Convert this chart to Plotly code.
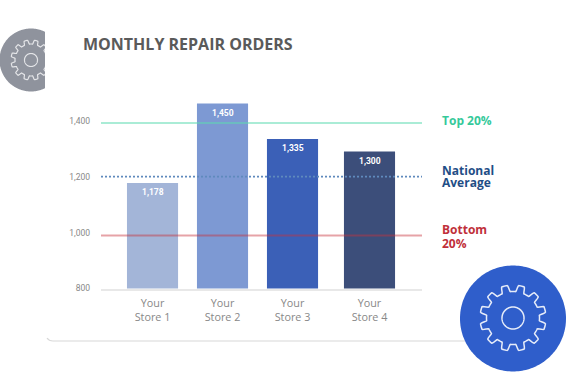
import math
import plotly.graph_objects as go

W, H = 566, 372

stores = ["Your<br>Store 1", "Your<br>Store 2", "Your<br>Store 3", "Your<br>Store 4"]
slots = [0, 1, 2, 3.1]
bar_heights = [1178, 1463, 1336, 1291]
bar_labels = ["1,178", "1,450", "1,335", "1,300"]
bar_colors = ["#a3b5d8", "#7d99d3", "#3b60b7", "#3c4e7a"]
benchmarks = {"Top 20%": 1393, "National Average": 1201, "Bottom 20%": 990}
y_ticks = [800, 1000, 1200, 1400]
y_tick_text = ["800", "1,000", "1,200", "1,400"]


def px(x):
    return x / W


def py(y):
    return 1 - y / H


def pt(x, y):
    return f"{px(x):.5f},{py(y):.5f}"


def gear_path(cx, cy, outer, root, teeth):
    pts = []
    n = teeth * 32
    for i in range(n):
        a = 2 * math.pi * i / n
        p = (i % 32) / 32
        d = abs(p - 0.5) * 2
        t = max(0.0, min(1.0, (0.62 - d) / 0.3))
        t = t * t * (3 - 2 * t)
        r = root + (outer - root) * t
        pts.append((cx + r * math.sin(a), cy - r * math.cos(a)))
    return "M" + "L".join(pt(x, y) for x, y in pts) + "Z"


def circle_path(cx, cy, r):
    pts = []
    for i in range(180):
        a = 2 * math.pi * i / 180
        pts.append((cx + r * math.cos(a), cy + r * math.sin(a)))
    return "M" + "L".join(pt(x, y) for x, y in pts) + "Z"


mask = "M" + "L".join(pt(x, y) for x, y in [(45, 20), (70, 20), (70, 100), (45, 100)]) + "Z"

fig = go.Figure()
fig.add_trace(go.Bar(
    x=slots, y=bar_heights, width=0.73, marker=dict(color=bar_colors, line_width=0),
    hoverinfo="skip",
))
x_range = [-0.736, 3.85]
line_styles = {
    "Top 20%": dict(color="rgba(94,219,178,0.7)", width=1.6),
    "National Average": dict(color="#5f8abd", width=1.6, dash="2px,2px"),
    "Bottom 20%": dict(color="rgba(200,50,60,0.45)", width=1.8),
}
for name, val in benchmarks.items():
    fig.add_trace(go.Scatter(x=x_range, y=[val, val], mode="lines", line=line_styles[name],
                             hoverinfo="skip", name=name))

shapes = [
    dict(type="path", xref="paper", yref="paper", layer="below",
         path=f"M{pt(465, 341)}L{pt(53, 341)}Q{pt(49, 341)} {pt(47, 338)}",
         line=dict(color="#d8d8d8", width=1.2)),
    dict(type="path", xref="paper", yref="paper", path=circle_path(31, 60, 31.5),
         fillcolor="#8f939d", line_width=0),
    dict(type="path", xref="paper", yref="paper", path=gear_path(31, 60, 20, 16, 12),
         line=dict(color="#e4e5e8", width=1.2)),
    dict(type="path", xref="paper", yref="paper", path=circle_path(31, 60, 6.5),
         line=dict(color="#e4e5e8", width=1.2)),
    dict(type="path", xref="paper", yref="paper", path=mask, fillcolor="white", line_width=0),
    dict(type="path", xref="paper", yref="paper", path=circle_path(513, 318.5, 53),
         fillcolor="#2f5ecb", line_width=0),
    dict(type="path", xref="paper", yref="paper", path=gear_path(513, 318, 33, 26.5, 12),
         line=dict(color="#e6ecf9", width=1.5)),
    dict(type="path", xref="paper", yref="paper", path=circle_path(513, 318, 11),
         line=dict(color="#e6ecf9", width=1.5)),
]


def label(x, y, lines, size, color, line_gap=None):
    # The annotation font size sets the line gap; each line keeps the display size.
    gap_size = (line_gap / 1.3) if line_gap else size
    text = "<br>".join(f'<span style="font-size:{size}px">{s}</span>' for s in lines)
    return dict(xref="paper", yref="paper", x=px(x), y=py(y), xanchor="left", yanchor="middle",
                text=text, showarrow=False, align="left", borderpad=0,
                font=dict(family="Open Sans", size=gap_size, color=color, weight="bold"))


annotations = [
    label(81.5, 44, ["MONTHLY REPAIR ORDERS"], 16, "#5a5a5a"),
    label(441, 121, ["Top 20%"], 12, "#35c99a"),
    label(441, 176, ["National", "Average"], 12, "#1f4e86", line_gap=12),
    label(441, 236, ["Bottom", "20%"], 12, "#c0303a", line_gap=14),
]
for slot, top, text in zip(slots, bar_heights, bar_labels):
    annotations.append(dict(x=slot, y=top, yshift=-9, text=text, showarrow=False,
                            font=dict(family="Roboto", size=8.5, color="white", weight="bold")))

fig.update_layout(
    template="none",
    width=W, height=H, autosize=False, showlegend=False,
    margin=dict(l=0, r=0, t=0, b=0, pad=0), paper_bgcolor="white", plot_bgcolor="white",
    shapes=shapes, annotations=annotations,
    xaxis=dict(domain=[px(101), px(422)], range=x_range, tickmode="array", tickvals=slots, ticktext=stores,
               showgrid=False, zeroline=False, showline=True, linecolor="#e8e8e8", linewidth=1.5,
               ticks="", ticklabelstandoff=4, automargin=False,
               tickfont=dict(family="Open Sans", size=10.8, color="#888888")),
    yaxis=dict(domain=[py(288.5), py(90)], range=[800, 800 + 198.5 / 0.279], tickmode="array",
               tickvals=y_ticks, ticktext=y_tick_text, showgrid=False, zeroline=False, showline=False,
               ticks="", ticklabelstandoff=10, automargin=False,
               tickfont=dict(family="Roboto", size=8.5, color="#888888")),
)

fig.write_html("out.html", config={"displayModeBar": False},
               post_script="document.body.style.margin='0';document.documentElement.style.overflow='hidden';")
